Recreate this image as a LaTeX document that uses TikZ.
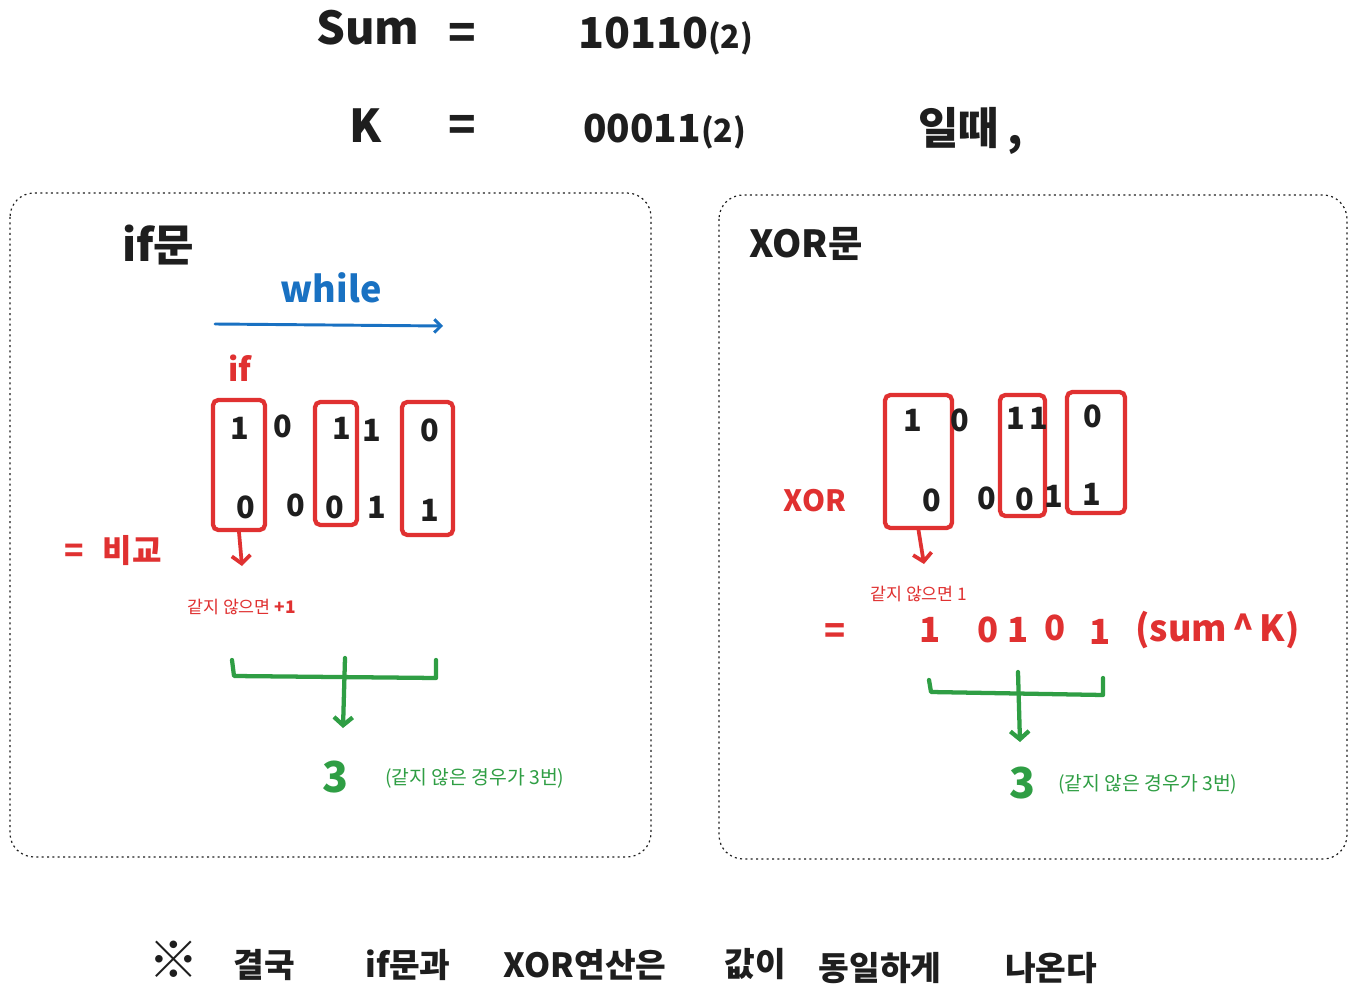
\documentclass[tikz,border=0pt]{standalone}
\usepackage{fontspec}
\setmainfont{Noto Sans CJK KR}
\usetikzlibrary{arrows.meta}
\definecolor{inkred}{HTML}{E03131}
\definecolor{inkgreen}{HTML}{2F9E44}
\definecolor{inkblue}{HTML}{1971C2}
\definecolor{ink}{HTML}{1E1E1E}
\newcommand{\myfs}[1]{\fontsize{#1}{#1}\selectfont\bfseries}
\newcommand{\myns}[1]{\fontsize{#1}{#1}\selectfont}
\begin{document}
\begin{tikzpicture}[x=0.75pt,y=-0.75pt,
  txt/.style={inner sep=0pt, text=ink},
  big/.style={txt, font=\myfs{34pt}},
  digit/.style={txt, font=\myfs{23pt}},
  note/.style={inner sep=0pt},
  redbox/.style={draw=inkred, line width=3.2pt, rounded corners=4pt, inner sep=0pt},
  panel/.style={draw=ink, line width=0.9pt, dash pattern=on 1.5pt off 2.5pt, rounded corners=18pt},
  redarrow/.style={draw=inkred, line width=2.8pt, line cap=round, line join=round, -{Straight Barb[length=6pt,width=14pt]}},
  greenline/.style={draw=inkgreen, line width=3.2pt, line cap=round, line join=round},
  greenarrow/.style={greenline, -{Straight Barb[length=6pt,width=14pt]}},
  bluearrow/.style={draw=inkblue, line width=2.2pt, line cap=round, -{Straight Barb[length=5pt,width=10pt]}}
]
\useasboundingbox[fill=white] (0,0) rectangle (1357,1002);

% ---- header ----
\node[big] (sum) at (368,28) {Sum};
\node[big] (eq1) at (462,36) {=};
\node[txt, anchor=west, font=\myfs{32pt}] (sumv) at (578,36) {10110\myfs{24pt}(2)};
\node[big] (k) at (366,126) {K};
\node[big] (eq2) at (462,128) {=};
\node[txt, anchor=west, font=\myfs{29pt}] (kv) at (583,131) {00011\myfs{24pt}(2)};
\node[txt, anchor=west, font=\myfs{33pt}] (when) at (918,131) {일때\hspace{6pt},};

% ---- panels ----
\draw[panel] (10,193) rectangle (651,857);
\draw[panel] (719,195) rectangle (1347,859);

% ---- left panel: if ----
\node[txt, anchor=west, font=\myfs{33pt}] (iftitle) at (122,245) {if문};
\node[inner sep=0pt, text=inkblue, font=\myfs{27pt}] (while) at (331,288) {while};
\coordinate (wl) at (215,324);
\coordinate (wr) at (443,326);
\draw[bluearrow] (wl) -- (wr);
\node[inner sep=0pt, text=inkred, font=\myfs{24pt}] (ifr) at (240,368) {if};

\node[redbox, minimum width=52*0.75pt, minimum height=130*0.75pt] (b1) at (239,465) {};
\node[redbox, minimum width=42*0.75pt, minimum height=123*0.75pt] (b2) at (336,463.5) {};
\node[redbox, minimum width=51*0.75pt, minimum height=133*0.75pt] (b3) at (427.5,468.5) {};

\node[digit] (la1) at (240,428) {1};
\node[digit] (la2) at (283,426) {0};
\node[digit] (la3) at (342,428) {1};
\node[digit] (la4) at (372,430) {1};
\node[digit] (la5) at (430,430) {0};
\node[digit] (lb1) at (246,507) {0};
\node[digit] (lb2) at (296,505) {0};
\node[digit] (lb3) at (335,507) {0};
\node[digit] (lb4) at (377,507) {1};
\node[digit] (lb5) at (430,510) {1};

\coordinate (la) at (242,566);
\draw[redarrow] (b1.south) -- (la);
\node[inner sep=0pt, text=inkred, font=\myfs{24pt}] (cmp) at (113,551) {=\hspace{14pt}비교};
\node[note, text=inkred, anchor=west, font=\myns{13pt}] (lnote) at (187,607) {같지 않으면 \textbf{+1}};

\coordinate (g1) at (232,660);
\coordinate (g2) at (234,676);
\coordinate (g3) at (436,678);
\coordinate (g4) at (436,660);
\coordinate (g5) at (345,658);
\coordinate (g6) at (343,728);
\draw[greenline] (g1) -- (g2) -- (g3) -- (g4);
\draw[greenarrow] (g5) -- (g6);
\node[inner sep=0pt, text=inkgreen, font=\myfs{32pt}] (lthree) at (335,777) {3};
\node[note, text=inkgreen, anchor=west, font=\myns{14.5pt}] (lres) at (385,778) {(같지 않은 경우가 3번)};

% ---- right panel: XOR ----
\node[txt, anchor=west, font=\myfs{28pt}] (xortitle) at (749,244) {XOR문};

\node[redbox, minimum width=67*0.75pt, minimum height=133*0.75pt] (b4) at (918.5,461.5) {};
\node[redbox, minimum width=45*0.75pt, minimum height=121*0.75pt] (b5) at (1022.5,455.5) {};
\node[redbox, minimum width=58*0.75pt, minimum height=121*0.75pt] (b6) at (1096,452.5) {};

\node[digit] (ra1) at (913,420) {1};
\node[digit] (ra2) at (960,420) {0};
\node[digit] (ra3) at (1016,418) {1};
\node[digit] (ra4) at (1039,418) {1};
\node[digit] (ra5) at (1093,416) {0};
\node[digit] (rb1) at (932,500) {0};
\node[digit] (rb2) at (987,498) {0};
\node[digit] (rb3) at (1025,499) {0};
\node[digit] (rb4) at (1054,496) {1};
\node[digit] (rb5) at (1092,494) {1};

\node[inner sep=0pt, text=inkred, font=\myfs{22pt}] (xorr) at (815,501) {XOR};
\coordinate (ra) at (924,564);
\draw[redarrow] (b4.south) -- (ra);
\node[note, text=inkred, anchor=west, font=\myns{13pt}] (rnote) at (870,594) {같지 않으면 1};

\node[inner sep=0pt, text=inkred, font=\myfs{26pt}] (req) at (835,634) {=};
\node[inner sep=0pt, text=inkred, font=\myfs{26pt}] (r1) at (930,630) {1};
\node[inner sep=0pt, text=inkred, font=\myfs{26pt}] (r2) at (988,630) {0};
\node[inner sep=0pt, text=inkred, font=\myfs{26pt}] (r3) at (1018,630) {1};
\node[inner sep=0pt, text=inkred, font=\myfs{26pt}] (r4) at (1055,628) {0};
\node[inner sep=0pt, text=inkred, font=\myfs{26pt}] (r5) at (1100,632) {1};
\node[inner sep=0pt, text=inkred, font=\myfs{27pt}, anchor=west] (rexpr) at (1135,630) {(sum\hspace{4pt}\textasciicircum\hspace{4pt}K)};

\coordinate (h1) at (929,680);
\coordinate (h2) at (931,692);
\coordinate (h3) at (1103,695);
\coordinate (h4) at (1103,678);
\coordinate (h5) at (1018,672);
\coordinate (h6) at (1020,742);
\draw[greenline] (h1) -- (h2) -- (h3) -- (h4);
\draw[greenarrow] (h5) -- (h6);
\node[inner sep=0pt, text=inkgreen, font=\myfs{32pt}] (rthree) at (1022,783) {3};
\node[note, text=inkgreen, anchor=west, font=\myns{14.5pt}] (rres) at (1058,784) {(같지 않은 경우가 3번)};

% ---- conclusion ----
\node[txt, font=\myfs{38pt}] (w0) at (174,960) {※};
\node[txt, font=\myfs{25pt}] (w1) at (264,965) {결국};
\node[txt, font=\myfs{25pt}] (w2) at (408,965) {if문과};
\node[txt, font=\myfs{25pt}] (w3) at (585,965) {XOR연산은};
\node[txt, font=\myfs{25pt}] (w4) at (755,964) {값이};
\node[txt, font=\myfs{25pt}] (w5) at (880,968) {동일하게};
\node[txt, font=\myfs{25pt}] (w6) at (1051,968) {나온다};
\end{tikzpicture}
\end{document}
